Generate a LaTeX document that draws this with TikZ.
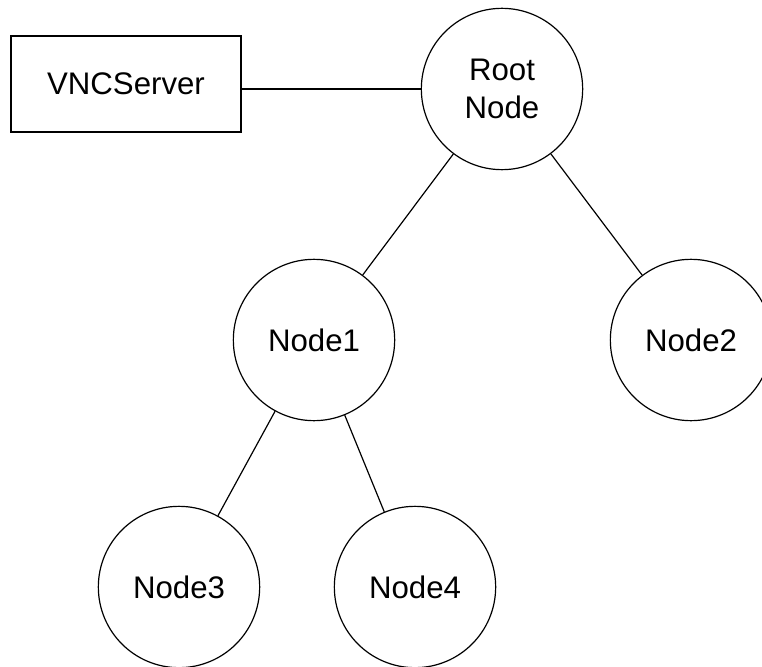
\documentclass[tikz,border=0pt]{standalone}
\usepackage{fontspec}
\setmainfont{Liberation Sans}
\usepackage{tikz}

\begin{document}
\begin{tikzpicture}[x=0.75pt, y=-0.75pt, line width=0.9pt, every node/.style={circle,draw,minimum size=121pt,inner sep=0pt,align=center,font=\fontsize{23.4}{28.5}\selectfont}] 
			\useasboundingbox (0,0) rectangle (762,666);
			\node(Root) at (502, 89) {Root\\Node}; 
			\node(VNC)[rectangle, minimum width=172.5pt, minimum height=72pt] at (126, 84) {VNCServer};
			\node(N1) at (314, 340) {Node1}; 
			\node(N2) at (691, 340) {Node2};
			\node(N3) at (179, 587) {Node3}; 
			\node(N4) at (415, 587) {Node4};
			\draw(VNC.east |- Root.west) -- (Root.west);
			\draw(Root) -- (N1);
			\draw(Root) -- (N2);
			\draw(N1) -- (N3);
			\draw(N1) -- (N4);
		\end{tikzpicture}
\end{document}
